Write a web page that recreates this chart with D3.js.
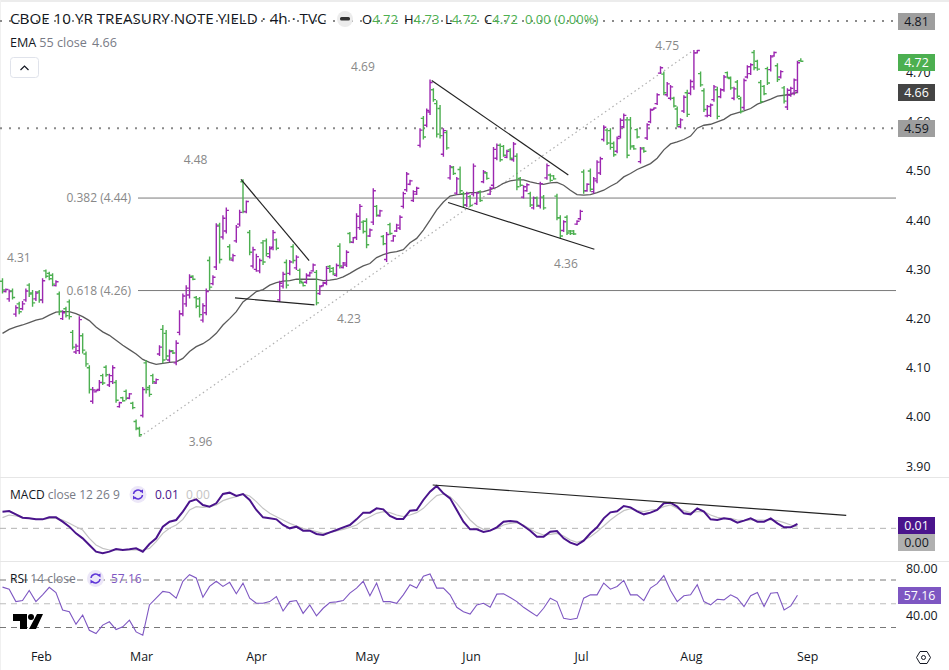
<!DOCTYPE html>
<html>
<head>
<meta charset="utf-8">
<title>CBOE 10 YR TREASURY NOTE YIELD</title>
<script src="https://cdn.jsdelivr.net/npm/d3@7"></script>
<style>
  html, body { margin: 0; padding: 0; background: #fff; }
  svg { display: block; }
  text { font-family: "Open Sans", "Noto Sans", sans-serif; }
  .axis .domain, .axis line { display: none; }
  .axis text { font-size: 12.4px; fill: #131722; font-family: "Open Sans", sans-serif; }
  .note { font-size: 12px; fill: #888; }
  .legend { font-size: 12px; fill: #787b86; }
  .tag { font-size: 12.4px; text-anchor: middle; }
</style>
</head>
<body>
<div id="chart"></div>
<script>
// OHLC, one entry per bar
const opens = [
  4.276,4.255,4.240,4.256,4.209,4.230,4.220,4.238,4.268,4.252,
  4.240,4.254,4.238,4.297,4.292,4.288,4.267,4.250,4.200,4.220,
  4.234,4.172,4.132,4.135,4.165,4.128,4.100,4.032,4.051,4.056,
  4.084,4.101,4.065,4.072,4.070,4.021,4.039,4.052,4.038,4.028,
  3.991,3.976,4.003,4.110,4.060,4.084,4.069,4.128,4.178,4.170,
  4.116,4.135,4.110,4.172,4.210,4.230,4.248,4.286,4.243,4.240,
  4.197,4.212,4.318,4.271,4.305,4.390,4.366,4.378,4.346,4.319,
  4.358,4.392,4.478,4.417,4.375,4.307,4.300,4.297,4.354,4.358,
  4.326,4.345,4.360,4.238,4.266,4.314,4.292,4.346,4.303,4.298,
  4.273,4.274,4.287,4.297,4.294,4.251,4.267,4.272,4.306,4.302,
  4.288,4.347,4.304,4.309,4.373,4.355,4.365,4.385,4.396,4.398,
  4.368,4.396,4.428,4.409,4.367,4.320,4.391,4.358,4.378,4.384,
  4.428,4.462,4.473,4.440,4.453,4.552,4.607,4.593,4.620,4.665,
  4.637,4.627,4.534,4.578,4.486,4.507,4.455,4.503,4.454,4.431,
  4.448,4.453,4.434,4.458,4.478,4.496,4.453,4.471,4.526,4.552,
  4.550,4.528,4.543,4.523,4.530,4.485,4.447,4.460,4.454,4.425,
  4.445,4.429,4.447,4.486,4.492,4.490,4.449,4.405,4.379,4.406,
  4.378,4.378,4.392,4.403,4.498,4.460,4.500,4.458,4.480,4.496,
  4.564,4.583,4.582,4.556,4.540,4.570,4.590,4.604,4.604,4.551,
  4.584,4.519,4.547,4.567,4.600,4.625,4.637,4.699,4.697,4.655,
  4.648,4.648,4.626,4.590,4.622,4.659,4.658,4.671,4.740,4.698,
  4.663,4.612,4.613,4.645,4.665,4.651,4.665,4.700,4.688,4.648,
  4.681,4.647,4.629,4.691,4.698,4.741,4.723,4.680,4.672,4.708,
  4.706,4.734,4.714,4.691,4.669,4.630,4.654,4.658,4.663,4.724
];
const highs = [
  4.282,4.261,4.259,4.261,4.227,4.234,4.236,4.261,4.272,4.258,
  4.256,4.258,4.282,4.300,4.295,4.292,4.278,4.255,4.217,4.224,
  4.239,4.177,4.149,4.205,4.170,4.133,4.105,4.061,4.056,4.075,
  4.088,4.105,4.088,4.105,4.075,4.031,4.041,4.056,4.049,4.031,
  3.995,3.980,4.061,4.116,4.065,4.088,4.078,4.146,4.187,4.177,
  4.137,4.136,4.156,4.217,4.251,4.268,4.290,4.288,4.246,4.244,
  4.231,4.261,4.326,4.288,4.394,4.395,4.410,4.426,4.351,4.332,
  4.390,4.421,4.483,4.440,4.380,4.346,4.332,4.322,4.360,4.363,
  4.347,4.380,4.363,4.277,4.295,4.320,4.319,4.351,4.329,4.302,
  4.275,4.292,4.295,4.312,4.299,4.268,4.275,4.307,4.309,4.305,
  4.312,4.353,4.315,4.339,4.376,4.366,4.414,4.433,4.400,4.404,
  4.383,4.465,4.431,4.421,4.370,4.376,4.395,4.370,4.393,4.410,
  4.458,4.498,4.482,4.461,4.468,4.587,4.612,4.627,4.686,4.668,
  4.644,4.634,4.587,4.583,4.512,4.510,4.488,4.509,4.458,4.458,
  4.451,4.515,4.458,4.461,4.502,4.498,4.468,4.549,4.556,4.556,
  4.553,4.543,4.546,4.559,4.536,4.488,4.471,4.475,4.458,4.448,
  4.448,4.478,4.451,4.515,4.495,4.492,4.454,4.410,4.400,4.410,
  4.380,4.380,4.400,4.421,4.503,4.475,4.505,4.488,4.522,4.529,
  4.593,4.587,4.587,4.560,4.570,4.607,4.617,4.610,4.610,4.553,
  4.587,4.549,4.549,4.597,4.627,4.629,4.658,4.713,4.702,4.681,
  4.675,4.651,4.631,4.607,4.654,4.665,4.686,4.746,4.746,4.702,
  4.668,4.634,4.637,4.675,4.671,4.668,4.695,4.702,4.692,4.671,
  4.685,4.651,4.688,4.715,4.719,4.746,4.726,4.685,4.675,4.712,
  4.736,4.743,4.719,4.705,4.673,4.668,4.671,4.688,4.724,4.729
];
const lows = [
  4.251,4.253,4.234,4.239,4.204,4.209,4.217,4.234,4.244,4.224,
  4.236,4.232,4.231,4.282,4.278,4.266,4.265,4.207,4.197,4.202,
  4.198,4.137,4.128,4.128,4.129,4.102,4.048,4.027,4.050,4.053,
  4.065,4.082,4.061,4.067,4.029,4.019,4.031,4.034,4.036,4.016,
  3.973,3.960,3.999,4.048,4.041,4.067,4.067,4.124,4.109,4.116,
  4.112,4.128,4.105,4.166,4.205,4.224,4.241,4.278,4.221,4.202,
  4.192,4.207,4.258,4.268,4.299,4.312,4.361,4.373,4.318,4.316,
  4.354,4.387,4.414,4.414,4.329,4.302,4.295,4.292,4.309,4.326,
  4.322,4.339,4.339,4.234,4.261,4.261,4.288,4.312,4.299,4.271,
  4.265,4.271,4.285,4.295,4.227,4.248,4.265,4.268,4.293,4.288,
  4.285,4.302,4.302,4.305,4.353,4.353,4.360,4.380,4.373,4.343,
  4.366,4.390,4.407,4.407,4.349,4.315,4.370,4.356,4.376,4.380,
  4.424,4.458,4.471,4.437,4.451,4.548,4.564,4.589,4.614,4.641,
  4.568,4.566,4.529,4.543,4.482,4.492,4.451,4.454,4.427,4.427,
  4.427,4.448,4.431,4.437,4.475,4.482,4.451,4.465,4.522,4.519,
  4.529,4.526,4.522,4.519,4.461,4.468,4.444,4.458,4.427,4.422,
  4.427,4.424,4.421,4.482,4.478,4.482,4.400,4.363,4.376,4.370,
  4.370,4.370,4.390,4.400,4.454,4.458,4.458,4.454,4.475,4.492,
  4.560,4.553,4.543,4.529,4.536,4.566,4.587,4.526,4.543,4.543,
  4.566,4.515,4.537,4.563,4.597,4.624,4.634,4.697,4.654,4.651,
  4.644,4.629,4.589,4.587,4.618,4.610,4.654,4.665,4.739,4.671,
  4.620,4.609,4.610,4.641,4.605,4.648,4.661,4.688,4.665,4.644,
  4.648,4.617,4.624,4.688,4.695,4.705,4.704,4.637,4.654,4.675,
  4.702,4.732,4.681,4.688,4.637,4.624,4.651,4.654,4.658,4.722
];
const closes = [
  4.258,4.259,4.255,4.243,4.222,4.214,4.230,4.256,4.250,4.232,
  4.252,4.238,4.277,4.286,4.281,4.270,4.275,4.215,4.212,4.206,
  4.204,4.142,4.144,4.198,4.136,4.108,4.056,4.055,4.054,4.070,
  4.069,4.086,4.084,4.100,4.034,4.029,4.033,4.038,4.047,4.019,
  3.977,3.964,4.056,4.056,4.046,4.072,4.076,4.142,4.116,4.124,
  4.133,4.130,4.150,4.210,4.246,4.262,4.284,4.280,4.225,4.208,
  4.226,4.255,4.264,4.284,4.388,4.320,4.404,4.420,4.323,4.328,
  4.386,4.416,4.418,4.438,4.335,4.340,4.326,4.318,4.315,4.332,
  4.342,4.375,4.343,4.272,4.290,4.268,4.315,4.318,4.325,4.276,
  4.267,4.288,4.293,4.309,4.232,4.265,4.273,4.302,4.296,4.291,
  4.308,4.307,4.313,4.335,4.356,4.364,4.408,4.428,4.377,4.350,
  4.380,4.460,4.410,4.419,4.352,4.371,4.373,4.368,4.390,4.406,
  4.454,4.494,4.480,4.458,4.465,4.583,4.569,4.623,4.680,4.645,
  4.575,4.572,4.582,4.547,4.508,4.495,4.484,4.460,4.431,4.454,
  4.430,4.510,4.455,4.440,4.498,4.485,4.465,4.544,4.552,4.523,
  4.532,4.540,4.526,4.555,4.468,4.471,4.468,4.472,4.431,4.445,
  4.430,4.474,4.425,4.511,4.481,4.484,4.405,4.368,4.397,4.374,
  4.373,4.372,4.398,4.418,4.460,4.473,4.463,4.484,4.518,4.525,
  4.589,4.557,4.548,4.533,4.566,4.603,4.613,4.532,4.549,4.545,
  4.569,4.545,4.540,4.594,4.624,4.628,4.655,4.710,4.659,4.677,
  4.671,4.632,4.594,4.604,4.650,4.615,4.682,4.740,4.745,4.675,
  4.625,4.631,4.634,4.671,4.611,4.665,4.691,4.690,4.669,4.667,
  4.652,4.621,4.684,4.712,4.716,4.710,4.707,4.641,4.657,4.679,
  4.732,4.741,4.686,4.702,4.642,4.664,4.668,4.685,4.720,4.723
];

// line series, read at every second bar
const sampleStep = 2;
const emaValues = [
  4.170,4.178,4.183,4.187,4.192,4.197,4.200,4.207,4.213,4.214,4.214,4.210,
  4.204,4.196,4.183,4.173,4.166,4.156,4.146,4.137,4.128,4.117,4.111,4.107,
  4.109,4.111,4.112,4.119,4.133,4.143,4.149,4.158,4.170,4.187,4.200,4.214,
  4.234,4.244,4.255,4.259,4.268,4.273,4.276,4.277,4.280,4.280,4.280,4.280,
  4.277,4.278,4.280,4.285,4.292,4.300,4.307,4.312,4.324,4.330,4.334,4.336,
  4.340,4.354,4.363,4.380,4.400,4.421,4.437,4.449,4.452,4.453,4.456,4.456,
  4.458,4.462,4.467,4.475,4.480,4.482,4.482,4.478,4.475,4.473,4.476,4.477,
  4.471,4.461,4.452,4.451,4.452,4.456,4.461,4.469,4.476,4.488,4.495,4.503,
  4.509,4.515,4.526,4.543,4.555,4.559,4.564,4.571,4.587,4.593,4.595,4.600,
  4.605,4.614,4.618,4.622,4.627,4.636,4.641,4.646,4.652,4.654,4.656,4.660
];
const macdValues = [
  0.050,0.052,0.042,0.032,0.030,0.027,0.027,0.033,0.033,0.020,0.005,-0.015,
  -0.030,-0.050,-0.070,-0.075,-0.070,-0.062,-0.065,-0.063,-0.060,-0.070,-0.047,-0.030,
  0.005,0.020,0.025,0.050,0.080,0.087,0.070,0.065,0.075,0.103,0.107,0.097,
  0.103,0.085,0.055,0.033,0.030,0.027,0.010,0.000,0.005,-0.007,-0.007,-0.017,
  -0.020,-0.012,-0.005,0.003,0.010,0.027,0.047,0.047,0.060,0.057,0.037,0.028,
  0.028,0.053,0.055,0.085,0.110,0.127,0.105,0.090,0.055,0.020,-0.003,-0.003,
  -0.011,-0.007,0.003,0.020,0.022,0.020,0.007,-0.007,-0.025,-0.025,-0.010,-0.008,
  -0.030,-0.043,-0.050,-0.037,-0.015,0.003,0.030,0.048,0.051,0.067,0.063,0.051,
  0.042,0.047,0.055,0.075,0.077,0.065,0.045,0.042,0.060,0.050,0.027,0.025,
  0.030,0.027,0.017,0.023,0.030,0.020,0.020,0.030,0.015,0.003,0.003,0.013
];
const signalValues = [
  0.032,0.040,0.037,0.033,0.030,0.027,0.027,0.030,0.030,0.025,0.015,0.005,
  -0.005,-0.030,-0.050,-0.060,-0.065,-0.065,-0.065,-0.065,-0.065,-0.065,-0.060,-0.040,
  -0.015,0.000,0.010,0.027,0.055,0.065,0.063,0.065,0.070,0.083,0.090,0.095,
  0.103,0.097,0.080,0.060,0.045,0.035,0.025,0.015,0.007,0.000,-0.005,-0.010,
  -0.015,-0.013,-0.008,-0.003,0.003,0.010,0.025,0.035,0.045,0.050,0.047,0.040,
  0.035,0.040,0.047,0.060,0.080,0.098,0.103,0.095,0.075,0.050,0.025,0.007,
  -0.003,-0.005,0.000,0.010,0.015,0.017,0.010,-0.003,-0.013,-0.020,-0.018,-0.015,
  -0.023,-0.035,-0.042,-0.035,-0.025,-0.010,0.007,0.025,0.040,0.053,0.059,0.053,
  0.050,0.055,0.057,0.065,0.070,0.060,0.053,0.047,0.050,0.050,0.040,0.033,
  0.030,0.030,0.025,0.023,0.025,0.025,0.025,0.025,0.023,0.017,0.010,0.004
];
const rsiValues = [
  64.0,62.3,51.8,52.7,61.2,51.8,57.5,63.8,59.5,44.8,43.3,32.8,
  40.5,27.7,24.9,32.0,34.8,28.3,30.6,36.2,26.3,23.5,49.0,54.7,
  60.4,59.5,54.7,68.9,74.5,71.7,55.5,64.6,68.9,64.6,68.0,58.4,
  67.4,54.7,50.4,50.4,51.8,56.1,43.9,51.8,52.7,41.9,49.0,39.9,
  46.2,51.0,51.6,52.7,58.9,63.2,68.9,56.7,67.4,51.8,51.8,50.4,
  57.5,66.0,63.2,73.1,75.1,63.2,63.2,57.5,47.0,43.3,41.3,49.0,
  50.4,47.0,58.1,58.4,55.2,51.8,47.0,43.3,39.6,46.2,54.7,51.8,
  37.7,36.8,37.7,54.7,57.5,57.5,67.4,62.3,64.6,69.7,57.5,57.5,
  52.7,63.2,66.9,73.7,61.2,51.8,56.7,57.5,66.0,51.8,49.0,53.8,
  53.3,57.5,54.7,47.6,56.7,59.5,47.6,58.9,59.5,44.8,48.2,57.16
];

// horizontal levels and drawn lines, as [bar, value]
const fibLevels = [4.445, 4.257];
const fibLabels = ['0.382 (4.44)', '0.618 (4.26)'];
const dottedLevels = [4.805, 4.587];
const trendLines = [
  [[71.4, 4.483], [91.8, 4.318]],
  [[69.6, 4.242], [93.4, 4.228]],
  [[128.5, 4.684], [169.4, 4.492]],
  [[133.4, 4.436], [177.2, 4.341]]
];
const dottedTrend = [[41.2, 3.960], [206.8, 4.745]];
const macdTrend = [[128.8, 0.130], [252.6, 0.039]];

// swing labels next to the price, as [bar, value, text]
const swingLabels = [
  [4.9, 4.323, '4.31'],
  [57.8, 4.522, '4.48'],
  [59.3, 3.950, '3.96'],
  [103.7, 4.199, '4.23'],
  [107.9, 4.711, '4.69'],
  [168.7, 4.311, '4.36'],
  [199, 4.755, '4.75']
];

const priceTicks = [3.9, 4.0, 4.1, 4.2, 4.3, 4.4, 4.5, 4.6, 4.7];
const rsiTicks = [40, 80];
const rsiLevels = [70, 50, 30];
const monthBars = [11.5, 41.5, 75.9, 109.1, 140.3, 173.2, 206.1, 240.9];
const monthNames = ['Feb', 'Mar', 'Apr', 'May', 'Jun', 'Jul', 'Aug', 'Sep'];

const width = 949, height = 670;
const plotRight = 896;

const svg = d3.select('#chart').append('svg')
  .attr('width', width)
  .attr('height', height);

const x = d3.scaleLinear().domain([0, 239]).range([2.5, 800.8]);
const yPrice = d3.scaleLinear().domain([3.9, 4.5]).range([466.2, 171]);
const yMacd = d3.scaleLinear().domain([-0.1, 0.15]).range([561.67, 478.33]);
const yRsi = d3.scaleLinear().domain([30, 70]).range([627.5, 580]);

// window frame and pane separators
svg.append('rect').attr('width', width).attr('height', 2).attr('fill', '#ececec');
svg.append('rect').attr('width', 1).attr('height', height).attr('fill', '#f0f0f0');
svg.selectAll('.sep')
  .data([477.5, 561.5])
  .join('line')
  .attr('class', 'sep')
  .attr('x1', 0).attr('x2', width)
  .attr('y1', d => d).attr('y2', d => d)
  .attr('stroke', '#e6e6e6');

// dotted horizontal levels
svg.selectAll('.dotted-level')
  .data(dottedLevels)
  .join('line')
  .attr('class', 'dotted-level')
  .attr('x1', 0).attr('x2', plotRight)
  .attr('y1', d => yPrice(d)).attr('y2', d => yPrice(d))
  .attr('stroke', '#8a8a8a')
  .attr('stroke-width', 2)
  .attr('stroke-dasharray', '2 7');

// fib lines
svg.selectAll('.fib')
  .data(fibLevels)
  .join('line')
  .attr('class', 'fib')
  .attr('x1', 138).attr('x2', plotRight)
  .attr('y1', d => yPrice(d)).attr('y2', d => yPrice(d))
  .attr('stroke', '#7a7a7a')
  .attr('stroke-width', 1);

svg.selectAll('.fib-label')
  .data(fibLabels)
  .join('text')
  .attr('class', 'note')
  .attr('x', 131)
  .attr('y', (d, i) => yPrice(fibLevels[i]) + 4)
  .attr('text-anchor', 'end')
  .text(d => d);

// dotted rising trend
const trendPath = d3.line().x(d => x(d[0])).y(d => yPrice(d[1]));
svg.append('path')
  .attr('d', trendPath(dottedTrend))
  .attr('fill', 'none')
  .attr('stroke', '#b0b0b0')
  .attr('stroke-width', 1.2)
  .attr('stroke-dasharray', '1.5 3');

// EMA
const sampled = scale => d3.line()
  .x((d, i) => x(i * sampleStep))
  .y(d => scale(d));

svg.append('path')
  .attr('d', sampled(yPrice)(emaValues))
  .attr('fill', 'none')
  .attr('stroke', '#5a5a5a')
  .attr('stroke-width', 1.3);

// OHLC bars: purple when the bar closes higher, green otherwise
const bars = opens.map((o, i) => ({ i, o, h: highs[i], l: lows[i], c: closes[i] }));
svg.append('g').selectAll('path')
  .data(bars)
  .join('path')
  .attr('d', d => {
    const bx = x(d.i);
    return `M${bx},${yPrice(d.h)}V${yPrice(d.l)}M${bx - 2.6},${yPrice(d.o)}H${bx}M${bx},${yPrice(d.c)}H${bx + 2.6}`;
  })
  .attr('fill', 'none')
  .attr('stroke', d => d.c > d.o ? '#9c27b0' : '#4caf50')
  .attr('stroke-width', 1.4);

// drawn trend lines
svg.selectAll('.trend')
  .data(trendLines)
  .join('path')
  .attr('class', 'trend')
  .attr('d', d => trendPath(d))
  .attr('fill', 'none')
  .attr('stroke', '#222')
  .attr('stroke-width', 1.2);

svg.selectAll('.swing')
  .data(swingLabels)
  .join('text')
  .attr('class', 'note')
  .attr('x', d => x(d[0]))
  .attr('y', d => yPrice(d[1]) + 4)
  .attr('text-anchor', 'middle')
  .text(d => d[2]);

// MACD pane
svg.append('line')
  .attr('x1', 0).attr('x2', plotRight)
  .attr('y1', yMacd(0)).attr('y2', yMacd(0))
  .attr('stroke', '#b2b2b2')
  .attr('stroke-dasharray', '6 5');

svg.append('path')
  .attr('d', sampled(yMacd)(signalValues))
  .attr('fill', 'none')
  .attr('stroke', '#c4c4c4')
  .attr('stroke-width', 1.2);

svg.append('path')
  .attr('d', sampled(yMacd)(macdValues))
  .attr('fill', 'none')
  .attr('stroke', '#4a148c')
  .attr('stroke-width', 2);

svg.append('path')
  .attr('d', d3.line().x(d => x(d[0])).y(d => yMacd(d[1]))(macdTrend))
  .attr('fill', 'none')
  .attr('stroke', '#222')
  .attr('stroke-width', 1.2);

// RSI pane
svg.selectAll('.rsi-level')
  .data(rsiLevels)
  .join('line')
  .attr('class', 'rsi-level')
  .attr('x1', 0).attr('x2', plotRight)
  .attr('y1', d => yRsi(d)).attr('y2', d => yRsi(d))
  .attr('stroke', d => d === 50 ? '#bdbdbd' : '#787878')
  .attr('stroke-dasharray', '6 5');

svg.append('path')
  .attr('d', sampled(yRsi)(rsiValues))
  .attr('fill', 'none')
  .attr('stroke', '#7e57c2')
  .attr('stroke-width', 1.1);

// axes
svg.append('g')
  .attr('class', 'axis')
  .attr('transform', 'translate(900,0)')
  .call(d3.axisRight(yPrice).tickValues(priceTicks).tickFormat(d3.format('.2f')).tickSize(0).tickPadding(6));

svg.append('g')
  .attr('class', 'axis')
  .attr('transform', 'translate(900,0)')
  .call(d3.axisRight(yRsi).tickValues(rsiTicks).tickFormat(d3.format('.2f')).tickSize(0).tickPadding(6));

svg.append('g')
  .attr('class', 'axis')
  .attr('transform', 'translate(0,646)')
  .call(d3.axisBottom(x).tickValues(monthBars).tickFormat((d, i) => monthNames[i]).tickSize(0).tickPadding(6));

// price tags on the right
const tags = [
  { y: 21.5, w: 37, text: '4.81', fill: '#9e9e9e', color: '#131722' },
  { y: 62.5, w: 37, text: '4.72', fill: '#4caf50', color: '#fff' },
  { y: 92.5, w: 37, text: '4.66', fill: '#444444', color: '#fff' },
  { y: 128.5, w: 37, text: '4.59', fill: '#9e9e9e', color: '#131722' },
  { y: 525.5, w: 37, text: '0.01', fill: '#4a148c', color: '#fff' },
  { y: 542.5, w: 37, text: '0.00', fill: '#b0b0b0', color: '#131722' },
  { y: 595.5, w: 43, text: '57.16', fill: '#7e57c2', color: '#fff' }
];
const tag = svg.selectAll('.tag-g')
  .data(tags)
  .join('g')
  .attr('class', 'tag-g')
  .attr('transform', d => `translate(898,${d.y})`);
tag.append('rect')
  .attr('y', -8.5).attr('width', d => d.w).attr('height', 17)
  .attr('fill', d => d.fill);
tag.append('text')
  .attr('class', 'tag')
  .attr('x', d => d.w / 2).attr('y', 4.5)
  .attr('fill', d => d.color)
  .text(d => d.text);

// legends
const title = svg.append('text').attr('x', 10).attr('y', 24)
  .attr('font-size', 15.2).attr('fill', '#131722');
title.text('CBOE 10 YR TREASURY NOTE YIELD · 4h · TVC');

svg.append('circle').attr('cx', 345).attr('cy', 19).attr('r', 8).attr('fill', '#ececec');
svg.append('rect').attr('x', 340).attr('y', 17).attr('width', 10).attr('height', 3.5).attr('rx', 1.5).attr('fill', '#333');

const ohlcParts = [
  { x: 362, key: 'O', value: '4.72' },
  { x: 404, key: 'H', value: '4.73' },
  { x: 445, key: 'L', value: '4.72' },
  { x: 484, key: 'C', value: '4.72' },
  { x: 525, key: '', value: '0.00 (0.00%)' }
];
const ohlcLegend = svg.selectAll('.ohlc')
  .data(ohlcParts)
  .join('text')
  .attr('class', 'ohlc')
  .attr('x', d => d.x).attr('y', 23.5)
  .attr('font-size', 13);
ohlcLegend.append('tspan').attr('fill', '#131722').text(d => d.key);
ohlcLegend.append('tspan').attr('fill', '#4caf50').text(d => d.value);

const emaLegend = svg.append('text').attr('class', 'legend').attr('x', 10).attr('y', 47).style('font-size', '12.6px');
emaLegend.append('tspan').attr('fill', '#131722').text('EMA');
emaLegend.append('tspan').attr('dx', 3).text('55 close');
emaLegend.append('tspan').attr('x', 92).text('4.66');

// collapse button
svg.append('rect').attr('x', 10.5).attr('y', 57.5).attr('width', 28).attr('height', 20).attr('rx', 3)
  .attr('fill', '#fff').attr('stroke', '#e0e3eb');
svg.append('path').attr('d', 'M20.5,70L24.5,66L28.5,70').attr('fill', 'none').attr('stroke', '#131722').attr('stroke-width', 1.2);

function syncIcon(cx, cy) {
  const g = svg.append('g').attr('transform', `translate(${cx},${cy})`);
  g.append('circle').attr('r', 8.5).attr('fill', '#ece7f8');
  g.append('path')
    .attr('d', 'M-4.5,-0.5A4.5,4.5 0 0 1 3.5,-2.8M4.5,0.5A4.5,4.5 0 0 1 -3.5,2.8')
    .attr('fill', 'none').attr('stroke', '#5e35d8').attr('stroke-width', 1.5);
  g.append('path').attr('d', 'M1.8,-3.4L5,-1L5,-5Z M-1.8,3.4L-5,1L-5,5Z').attr('fill', '#5e35d8');
}

const macdLegend = svg.append('text').attr('class', 'legend').attr('x', 10).attr('y', 499);
macdLegend.append('tspan').attr('fill', '#131722').text('MACD');
macdLegend.append('tspan').attr('dx', 3).text('close 12 26 9');
syncIcon(138, 494.5);
svg.append('text').attr('class', 'legend').attr('x', 155).attr('y', 499).style('fill', '#4a148c').text('0.01');
svg.append('text').attr('class', 'legend').attr('x', 186).attr('y', 499).style('fill', '#c4c4c4').text('0.00');

const rsiLegend = svg.append('text').attr('class', 'legend').attr('x', 10).attr('y', 583);
rsiLegend.append('tspan').attr('fill', '#131722').text('RSI');
rsiLegend.append('tspan').attr('dx', 3).text('14 close');
syncIcon(95.5, 578.5);
svg.append('text').attr('class', 'legend').attr('x', 111).attr('y', 583).style('fill', '#7e57c2').text('57.16');

// TradingView mark, bottom left
svg.append('path')
  .attr('d', 'M13,614H27V629H20V621H13Z M37,614H43L36,629H29Z')
  .attr('fill', '#000');
svg.append('circle').attr('cx', 31).attr('cy', 617).attr('r', 3).attr('fill', '#000');

// settings hexagon, bottom right
const gear = svg.append('g').attr('transform', 'translate(923.5,657.5)');
gear.append('path').attr('d', 'M-7,0L-3.5,-6H3.5L7,0L3.5,6H-3.5Z').attr('fill', 'none').attr('stroke', '#131722');
gear.append('circle').attr('r', 2).attr('fill', 'none').attr('stroke', '#131722');
</script>
</body>
</html>
